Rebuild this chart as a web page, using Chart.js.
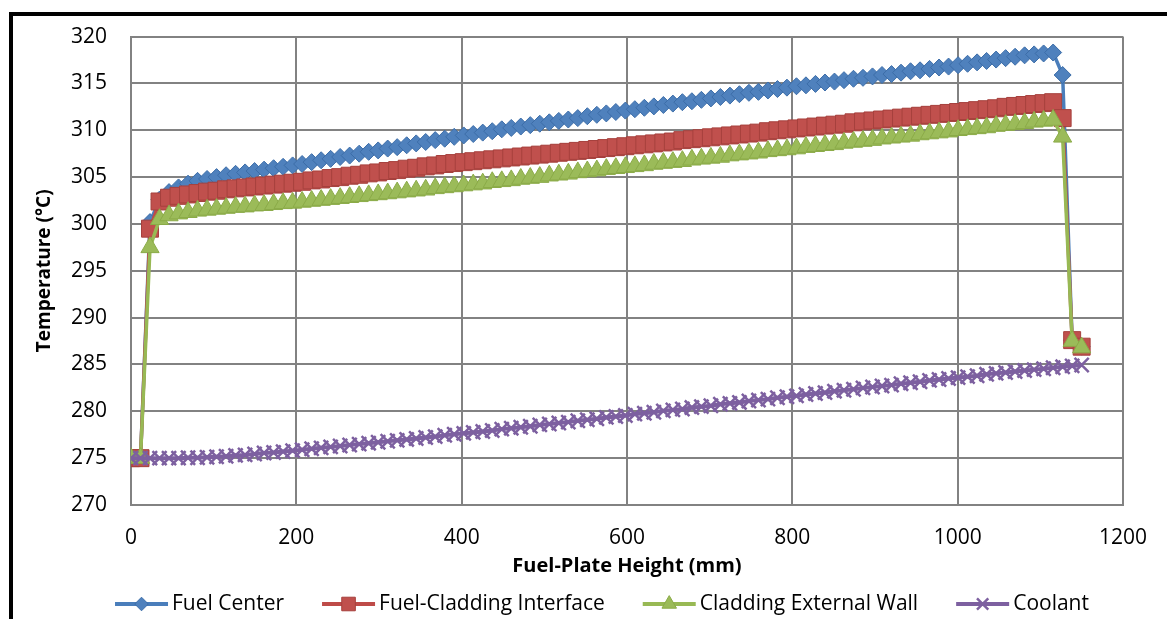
<!DOCTYPE html>
<html>
<head>
<meta charset="utf-8">
<script src="https://cdn.jsdelivr.net/npm/chart.js@4.4.1/dist/chart.umd.min.js"></script>
<style>
  html, body { margin: 0; padding: 0; background: #fff; }
  #wrap { position: relative; width: 1167px; height: 619px; }
</style>
</head>
<body>
<div id="wrap"><canvas id="chart"></canvas></div>
<script>
// Fuel plate temperature profile (mm vs °C)
const heights = [
  0, 11.5, 23, 34.5, 46, 57.5, 69, 80.5, 92, 103.5,
  115, 126.5, 138, 149.5, 161, 172.5, 184, 195.5, 207, 218.5,
  230, 241.5, 253, 264.5, 276, 287.5, 299, 310.5, 322, 333.5,
  345, 356.5, 368, 379.5, 391, 402.5, 414, 425.5, 437, 448.5,
  460, 471.5, 483, 494.5, 506, 517.5, 529, 540.5, 552, 563.5,
  575, 586.5, 598, 609.5, 621, 632.5, 644, 655.5, 667, 678.5,
  690, 701.5, 713, 724.5, 736, 747.5, 759, 770.5, 782, 793.5,
  805, 816.5, 828, 839.5, 851, 862.5, 874, 885.5, 897, 908.5,
  920, 931.5, 943, 954.5, 966, 977.5, 989, 1000.5, 1012, 1023.5,
  1035, 1046.5, 1058, 1069.5, 1081, 1092.5, 1104, 1115.5, 1127, 1138.5,
  1150
];

const fuelCenter = [
  275, 275, 300.2, 302.6, 303.4, 303.9, 304.3, 304.6, 304.8, 305.0,
  305.2, 305.35, 305.5, 305.65, 305.8, 305.95, 306.1, 306.25, 306.4, 306.6,
  306.8, 306.95, 307.15, 307.3, 307.5, 307.7, 307.85, 308.05, 308.2, 308.4,
  308.6, 308.75, 308.95, 309.1, 309.3, 309.45, 309.6, 309.75, 309.9, 310.1,
  310.25, 310.4, 310.55, 310.7, 310.85, 311.0, 311.15, 311.3, 311.5, 311.65,
  311.8, 311.95, 312.1, 312.25, 312.4, 312.55, 312.7, 312.85, 313.0, 313.1,
  313.25, 313.4, 313.55, 313.7, 313.85, 314.0, 314.1, 314.25, 314.4, 314.55,
  314.7, 314.8, 314.95, 315.1, 315.2, 315.35, 315.5, 315.6, 315.75, 315.9,
  316.0, 316.15, 316.3, 316.4, 316.55, 316.7, 316.8, 316.95, 317.1, 317.25,
  317.4, 317.55, 317.7, 317.85, 318.0, 318.1, 318.2, 318.3, 315.9, 287.6,
  286.9
];

const claddingInterface = [
  275, 275, 299.5, 302.4, 302.8, 303.0, 303.15, 303.3, 303.45, 303.55,
  303.7, 303.8, 303.9, 304.0, 304.1, 304.2, 304.3, 304.4, 304.5, 304.65,
  304.75, 304.9, 305.0, 305.15, 305.25, 305.4, 305.5, 305.65, 305.75, 305.9,
  306.0, 306.15, 306.25, 306.4, 306.5, 306.6, 306.7, 306.8, 306.9, 307.0,
  307.1, 307.2, 307.3, 307.4, 307.5, 307.6, 307.7, 307.8, 307.9, 308.0,
  308.1, 308.2, 308.3, 308.4, 308.5, 308.6, 308.7, 308.8, 308.95, 309.05,
  309.15, 309.25, 309.35, 309.45, 309.55, 309.65, 309.75, 309.9, 310.0, 310.1,
  310.2, 310.3, 310.4, 310.5, 310.6, 310.7, 310.85, 310.95, 311.05, 311.15,
  311.25, 311.35, 311.45, 311.55, 311.65, 311.75, 311.85, 311.95, 312.05, 312.15,
  312.25, 312.35, 312.5, 312.6, 312.7, 312.8, 312.9, 313.0, 311.3, 287.6,
  286.9
];

const externalWall = [
  275, 275, 297.5, 300.5, 300.9, 301.1, 301.25, 301.4, 301.5, 301.6,
  301.7, 301.8, 301.85, 301.95, 302.0, 302.1, 302.2, 302.25, 302.35, 302.45,
  302.55, 302.65, 302.75, 302.85, 302.95, 303.05, 303.15, 303.25, 303.35, 303.45,
  303.55, 303.65, 303.8, 303.9, 304.0, 304.1, 304.2, 304.3, 304.45, 304.55,
  304.65, 304.8, 304.9, 305.0, 305.15, 305.25, 305.35, 305.5, 305.6, 305.7,
  305.85, 305.95, 306.05, 306.15, 306.25, 306.4, 306.5, 306.6, 306.7, 306.85,
  306.95, 307.05, 307.15, 307.3, 307.4, 307.5, 307.6, 307.75, 307.85, 307.95,
  308.05, 308.2, 308.3, 308.4, 308.5, 308.65, 308.75, 308.85, 308.95, 309.1,
  309.2, 309.3, 309.4, 309.55, 309.65, 309.75, 309.85, 310.0, 310.1, 310.2,
  310.3, 310.45, 310.55, 310.65, 310.75, 310.9, 311.0, 311.1, 309.3, 287.5,
  286.8
];

const coolant = [
  275, 275, 275, 275, 275, 275, 275.05, 275.05, 275.1, 275.15,
  275.2, 275.3, 275.35, 275.45, 275.55, 275.6, 275.7, 275.8, 275.9, 276.0,
  276.1, 276.2, 276.3, 276.4, 276.5, 276.6, 276.7, 276.8, 276.9, 277.0,
  277.1, 277.2, 277.3, 277.45, 277.55, 277.65, 277.75, 277.85, 277.95, 278.1,
  278.2, 278.3, 278.4, 278.55, 278.65, 278.75, 278.85, 279.0, 279.1, 279.2,
  279.35, 279.45, 279.55, 279.7, 279.8, 279.9, 280.05, 280.15, 280.25, 280.4,
  280.5, 280.6, 280.75, 280.85, 280.95, 281.1, 281.2, 281.3, 281.45, 281.55,
  281.65, 281.8, 281.9, 282.0, 282.15, 282.25, 282.35, 282.5, 282.6, 282.7,
  282.8, 282.95, 283.05, 283.15, 283.3, 283.4, 283.5, 283.6, 283.7, 283.8,
  283.95, 284.05, 284.15, 284.25, 284.35, 284.45, 284.55, 284.65, 284.75, 284.85,
  284.95
];

const seriesLabels = ['Fuel Center', 'Fuel-Cladding Interface', 'Cladding External Wall', 'Coolant'];

const FONT = '"Open Sans", "DejaVu Sans", sans-serif';
const GRID = '#828282';

const toPoints = vals => vals.map((v, i) => ({x: heights[i], y: v}));

// black frame (top + left only, the rest is cropped off in the source)
const framePlugin = {
  id: 'frame',
  beforeDraw(chart) {
    const ctx = chart.ctx;
    ctx.save();
    ctx.fillStyle = '#000';
    ctx.fillRect(9, 12, chart.width - 9, 4);
    ctx.fillRect(9, 12, 4, chart.height - 12);
    ctx.restore();
  }
};

// Excel-style legend: line with marker in the middle, then label
const legendPlugin = {
  id: 'excelLegend',
  afterDraw(chart) {
    const ctx = chart.ctx;
    const lineW = 53, gapText = 4, gapItem = 38, cy = 604, centerX = 602;
    ctx.save();
    ctx.font = '21px ' + FONT;
    const items = chart.data.datasets.map(ds => ({ds, w: ctx.measureText(ds.label).width}));
    const total = items.reduce((s, it) => s + lineW + gapText + it.w, 0) + gapItem * (items.length - 1);
    let x = centerX - total / 2;
    items.forEach(it => {
      const ds = it.ds;
      ctx.strokeStyle = ds.borderColor;
      ctx.lineWidth = 4;
      ctx.beginPath();
      ctx.moveTo(x, cy);
      ctx.lineTo(x + lineW, cy);
      ctx.stroke();
      ctx.fillStyle = ds.pointBackgroundColor;
      ctx.strokeStyle = ds.pointBorderColor;
      ctx.lineWidth = ds.pointBorderWidth;
      Chart.helpers.drawPoint(ctx, {
        pointStyle: ds.pointStyle, radius: ds.pointRadius * 0.8,
        borderWidth: ds.pointBorderWidth, rotation: 0
      }, x + lineW / 2, cy);
      ctx.fillStyle = '#000';
      ctx.textBaseline = 'middle';
      ctx.textAlign = 'left';
      ctx.fillText(ds.label, x + lineW + gapText, cy);
      x += lineW + gapText + it.w + gapItem;
    });
    ctx.restore();
  }
};

new Chart(document.getElementById('chart'), {
  type: 'line',
  data: {
    datasets: [
      {
        label: seriesLabels[0], data: toPoints(fuelCenter), order: 4,
        borderColor: '#4A7EBB', borderWidth: 3.5,
        pointStyle: 'rectRot', pointRadius: 8.5,
        pointBackgroundColor: '#4F81BD', pointBorderColor: '#3C6DA8', pointBorderWidth: 1
      },
      {
        label: seriesLabels[1], data: toPoints(claddingInterface), order: 3,
        borderColor: '#BE4B48', borderWidth: 3.5,
        pointStyle: 'rect', pointRadius: 12,
        pointBackgroundColor: '#C0504D', pointBorderColor: '#A6403D', pointBorderWidth: 1
      },
      {
        label: seriesLabels[2], data: toPoints(externalWall), order: 2,
        borderColor: '#98B954', borderWidth: 3.5,
        pointStyle: 'triangle', pointRadius: 10.5,
        pointBackgroundColor: '#9BBB59', pointBorderColor: '#8BAB48', pointBorderWidth: 1
      },
      {
        label: seriesLabels[3], data: toPoints(coolant), order: 1,
        borderColor: '#7D60A0', borderWidth: 4,
        pointStyle: 'crossRot', pointRadius: 10,
        pointBackgroundColor: '#8064A2', pointBorderColor: '#7D60A0', pointBorderWidth: 2.5
      }
    ]
  },
  options: {
    responsive: true,
    maintainAspectRatio: false,
    animation: false,
    events: [],
    layout: {padding: {left: 14, top: 36, right: 35, bottom: 39}},
    plugins: {legend: {display: false}, tooltip: {enabled: false}},
    elements: {line: {tension: 0}},
    scales: {
      x: {
        type: 'linear', min: 0, max: 1200,
        grid: {color: GRID, lineWidth: 2, drawTicks: false},
        border: {color: GRID, width: 2},
        ticks: {stepSize: 200, padding: 20, color: '#000', font: {family: FONT, size: 21},
                callback: v => String(v)},
        title: {display: true, text: 'Fuel-Plate Height (mm)', color: '#000',
                font: {family: FONT, size: 20, weight: 'bold'}, padding: {top: 0, bottom: 2}},
        afterFit: s => { s.height = 75; }
      },
      y: {
        min: 270, max: 320,
        grid: {color: GRID, lineWidth: 2, drawTicks: false},
        border: {color: GRID, width: 2},
        ticks: {stepSize: 5, padding: 24, color: '#000', font: {family: FONT, size: 21},
                callback: v => String(v)},
        title: {display: true, text: 'Temperature (°C)', color: '#000',
                font: {family: FONT, size: 19, weight: 'bold'}, padding: {top: 19, bottom: 0}},
        afterFit: s => { s.width = 117; }
      }
    }
  },
  plugins: [framePlugin, legendPlugin]
});
</script>
</body>
</html>
